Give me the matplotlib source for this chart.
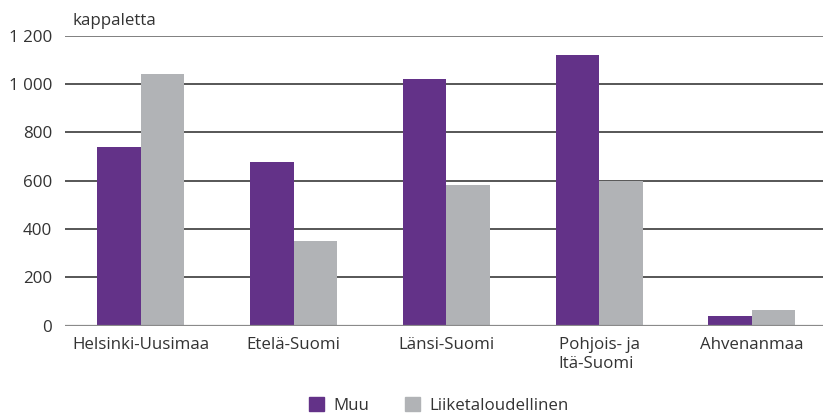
import numpy as np
import matplotlib.pyplot as plt
from matplotlib.patches import Patch

plt.rcParams['font.family'] = ['Open Sans', 'DejaVu Sans']

# data
regions = ["Helsinki-Uusimaa", "Etelä-Suomi", "Länsi-Suomi", "Pohjois- ja\nItä-Suomi", "Ahvenanmaa"]
muu = [740, 676, 1022, 1119, 39]
liiketaloudellinen = [1041, 350, 581, 600, 66]
yticks = [0, 200, 400, 600, 800, 1000, 1200]
ytick_labels = ["0", "200", "400", "600", "800", "1 000", "1 200"]

purple = "#633288"
grey = "#b1b3b6"
text_col = "#333333"
fs = 12.2

W, H = 823, 413
fig = plt.figure(figsize=(W / 100, H / 100), dpi=100)
ax = fig.add_axes([64.6 / W, (H - 325.7) / H, 763.5 / W, 290 / H])

x = np.arange(len(regions))
bw = 0.285
ax.bar(x - bw / 2, muu, bw, color=purple, zorder=3)
ax.bar(x + bw / 2, liiketaloudellinen, bw, color=grey, zorder=3)

ax.set_xlim(-0.5, len(regions) - 0.5)
ax.set_ylim(0, 1200)
ax.set_yticks(yticks)
ax.set_yticklabels(ytick_labels, fontsize=fs, color=text_col)
ax.set_xticks(x)
ax.set_xticklabels(regions, fontsize=fs, color=text_col, ha="center",
                   multialignment="left", linespacing=1.25)
ax.tick_params(axis="both", length=0)
ax.tick_params(axis="y", pad=9)
ax.tick_params(axis="x", pad=8)

for v in yticks[1:-1]:
    ax.axhline(v, color="#3a3a3a", lw=1.2, zorder=1)
ax.axhline(1200, color="#808080", lw=1.4, zorder=1)
ax.axhline(0, color="#8a8a8a", lw=1.6, zorder=4)

for s in ax.spines.values():
    s.set_visible(False)

fig.text(72 / W, (H - 25) / H, "kappaletta", fontsize=fs, color=text_col, va="baseline")

handles = [Patch(color=purple, label="Muu"), Patch(color=grey, label="Liiketaloudellinen")]
fig.legend(handles=handles, loc="center", bbox_to_anchor=(438.5 / W, 7.5 / H), ncol=2,
           frameon=False, fontsize=fs, handlelength=0.9, handleheight=0.9,
           handletextpad=0.55, columnspacing=2.1, labelcolor=text_col,
           borderpad=0, borderaxespad=0)

fig.savefig("out.png", dpi=100)
